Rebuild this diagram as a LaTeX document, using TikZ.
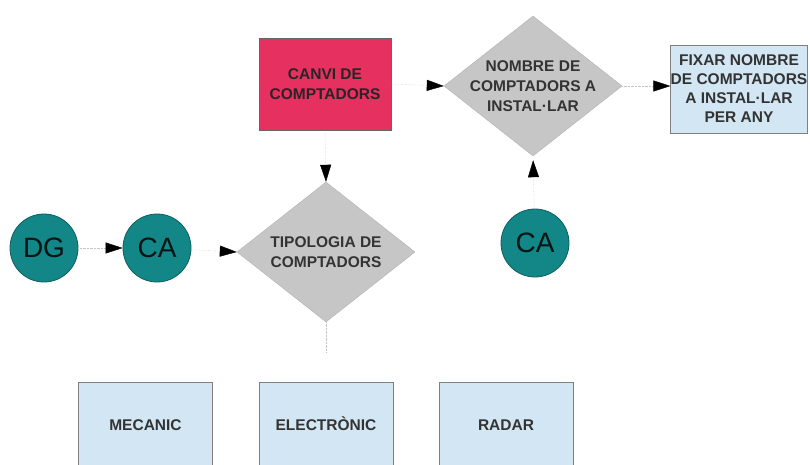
\documentclass[tikz,border=0pt]{standalone}
\usepackage{fontspec}
\setmainfont{Liberation Sans}
\usetikzlibrary{shapes.geometric,arrows.meta}
\definecolor{pinkfill}{HTML}{E6305F}
\definecolor{bluefill}{HTML}{D2E6F3}
\definecolor{greyfill}{HTML}{C6C6C6}
\definecolor{tealfill}{HTML}{138787}
\definecolor{tealedge}{HTML}{0C5F5F}
\definecolor{inktext}{HTML}{333333}
\tikzset{
  lbl/.style={font=\fontsize{15.5}{20}\selectfont\bfseries, text=inktext, align=center},
  pinkbox/.style={draw=gray!80!black, line width=0.5pt, fill=pinkfill, minimum width=132pt, minimum height=92pt, inner sep=0pt, lbl, text=black!85},
  bluebox/.style={draw=gray, line width=0.6pt, fill=bluefill, minimum width=134pt, inner sep=0pt, lbl},
  kindbox/.style={bluebox, minimum height=100pt, text height=11pt, text depth=0pt},
  decision/.style={diamond, fill=greyfill, draw=greyfill!90!black, line width=0.4pt, minimum width=178pt, minimum height=140pt, inner sep=0pt},
  actor/.style={circle, fill=tealfill, draw=tealedge, line width=0.8pt, minimum size=68pt, inner sep=0pt, text=black!80!tealedge, font=\fontsize{28}{30}\selectfont},
  flow/.style={draw=gray!45, line width=0.4pt, densely dotted, -{Triangle[length=17pt,width=11pt,fill=black,color=black]}},
  stub/.style={draw=gray!45, line width=0.4pt, densely dotted}
}
\begin{document}
\begin{tikzpicture}[x=1pt,y=-1pt]
\useasboundingbox (0,0) rectangle (810,465);
\clip (0,0) rectangle (810,465);
\fill[white] (0,0) rectangle (810,465);

% top row
\node[pinkbox] (canvi) at (325,84) {CANVI DE\\COMPTADORS};
\node[decision, label={[lbl]center:NOMBRE DE\\COMPTADORS A\\INSTAL·LAR}] (nombre) at (533,86) {};
\node[bluebox, minimum height=88pt, font=\fontsize{15.5}{19}\selectfont\bfseries] (fixar) at (739,89) {FIXAR NOMBRE\\DE COMPTADORS\\A INSTAL·LAR\\PER ANY};

% middle row
\node[actor] (dg) at (44,248) {DG};
\node[actor] (ca1) at (157,248) {CA};
\node[decision, label={[lbl]center:TIPOLOGIA DE\\COMPTADORS}] (tipo) at (326,252) {};
\node[actor] (ca2) at (535,243) {CA};
\coordinate (tipoend) at (326,352);

% bottom row (boxes run off the lower edge)
\node[kindbox] (mec) at (145.5,432) {\raisebox{7pt}{MECANIC}};
\node[kindbox] (ele) at (326,432) {\raisebox{7pt}{ELECTRÒNIC}};
\node[kindbox] (rad) at (506,432) {\raisebox{7pt}{RADAR}};

% connectors
\draw[flow] (canvi.east) -- (nombre.west);
\draw[flow] (nombre.east) -- (fixar.west |- nombre.east);
\draw[flow] (canvi.south) -- (tipo.north);
\draw[flow] (dg) -- (ca1);
\draw[flow] (ca1) -- (tipo.west);
\draw[flow, shorten >=4pt] (ca2) -- (nombre.south);
\draw[stub] (tipo.south) -- (tipoend);
\end{tikzpicture}
\end{document}
